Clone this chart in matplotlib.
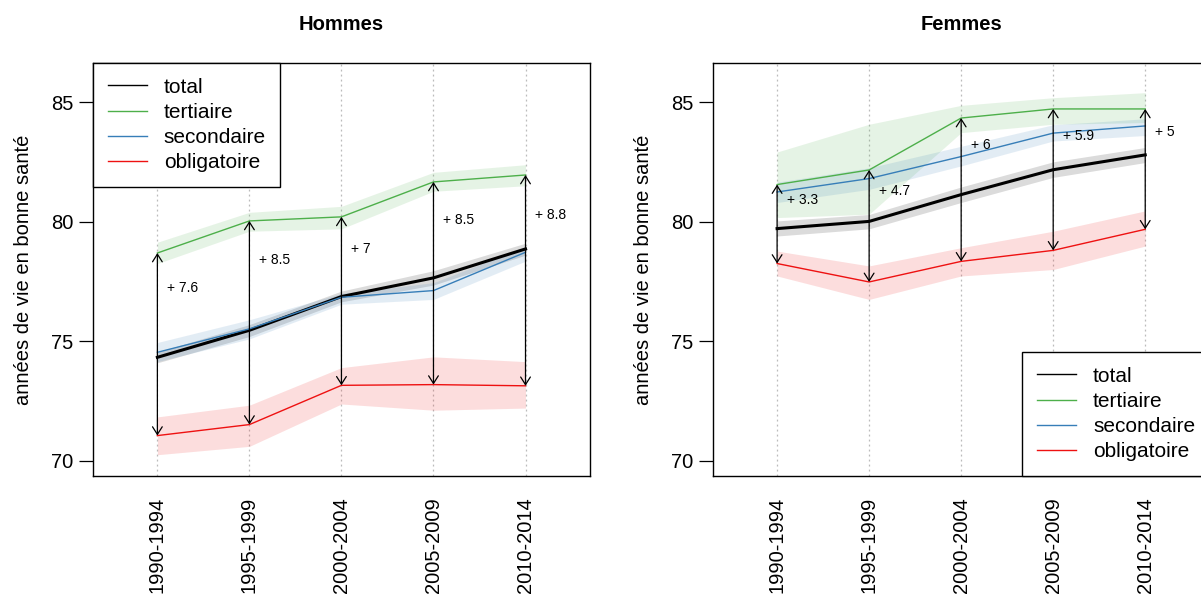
import matplotlib
matplotlib.use("Agg")
import matplotlib.pyplot as plt
from matplotlib.patches import FancyArrowPatch
import numpy as np

plt.rcParams['font.family'] = ['Liberation Sans', 'DejaVu Sans']

periods = ["1990-1994", "1995-1999", "2000-2004", "2005-2009", "2010-2014"]
series_names = ["total", "tertiaire", "secondaire", "obligatoire"]

# Hommes
h_total = [74.33, 75.46, 76.87, 77.65, 78.86]
h_total_lo = [74.10, 75.20, 76.65, 77.35, 78.60]
h_total_hi = [74.55, 75.70, 77.10, 77.95, 79.10]
h_tert = [78.69, 80.03, 80.20, 81.66, 81.95]
h_tert_lo = [78.25, 79.60, 79.70, 81.27, 81.50]
h_tert_hi = [79.14, 80.39, 80.64, 82.06, 82.38]
h_sec = [74.54, 75.52, 76.84, 77.12, 78.72]
h_sec_lo = [74.15, 75.10, 76.55, 76.75, 78.35]
h_sec_hi = [74.95, 75.90, 77.00, 77.45, 78.95]
h_obl = [71.06, 71.52, 73.16, 73.19, 73.14]
h_obl_lo = [70.26, 70.61, 72.38, 72.12, 72.21]
h_obl_hi = [71.84, 72.33, 73.90, 74.35, 74.15]

# Femmes
f_total = [79.71, 80.01, 81.13, 82.17, 82.79]
f_total_lo = [79.40, 79.70, 80.80, 81.85, 82.47]
f_total_hi = [80.03, 80.30, 81.45, 82.50, 83.10]
f_tert = [81.55, 82.16, 84.33, 84.71, 84.71]
f_tert_lo = [80.17, 80.31, 83.72, 84.07, 84.14]
f_tert_hi = [82.91, 84.07, 84.86, 85.18, 85.39]
f_sec = [81.24, 81.80, 82.72, 83.70, 84.00]
f_sec_lo = [80.80, 81.35, 82.33, 83.37, 83.60]
f_sec_hi = [81.65, 82.25, 83.15, 84.05, 84.30]
f_obl = [78.25, 77.48, 78.34, 78.80, 79.68]
f_obl_lo = [77.73, 76.75, 77.73, 78.00, 78.98]
f_obl_hi = [78.77, 78.15, 78.91, 79.60, 80.45]

colors = ["black", "#4DAF4A", "#377EB8", "#EE1111"]
widths = [2.2, 1.0, 1.0, 1.0]
FS = 14.5


def panel(ax, title, vals, los, his, legend_loc, legend_anchor):
    x = np.arange(1, len(periods) + 1)
    for xi in x:
        ax.axvline(xi, color="#BBBBBB", linestyle=(0, (1.5, 2.5)), lw=0.9, zorder=0)
    for lo, hi, c in zip(los, his, colors):
        ax.fill_between(x, lo, hi, color=c, alpha=0.14, lw=0, zorder=1)
    handles = []
    for v, c, w, name in zip(vals, colors, widths, series_names):
        ax.plot(x, v, color=c, lw=w, zorder=3)
        handles.append(plt.Line2D([], [], color=c, lw=1.0, label=name))
    tert, obl = vals[1], vals[3]
    for xi, t, o in zip(x, tert, obl):
        arr = FancyArrowPatch((xi, o), (xi, t), arrowstyle="<->,head_length=0.55,head_width=0.35",
                              mutation_scale=10, lw=0.9, color="black", shrinkA=0, shrinkB=0, zorder=4)
        ax.add_patch(arr)
        d = round(t - o, 1)
        ax.annotate(f"+ {d:g}", xy=(xi, o + 0.81 * (t - o)), xytext=(7, 0),
                    textcoords="offset points", ha="left", va="center", fontsize=10)
    ax.set_xlim(0.3, 5.7)
    ax.set_ylim(69.37, 86.63)
    ax.set_xticks(x)
    ax.set_xticklabels(periods, rotation=90, fontsize=FS)
    ax.tick_params(axis="x", length=0, pad=15)
    ax.set_yticks([70, 75, 80, 85])
    ax.tick_params(axis="y", length=10, width=0.9, pad=4, labelsize=FS)
    for s in ax.spines.values():
        s.set_linewidth(1.0)
    ax.set_ylabel("années de vie en bonne santé", fontsize=FS)
    ax.yaxis.set_label_coords(-0.12, 0.5)
    ax.set_title(title, fontsize=FS, fontweight="bold", pad=24)
    ax.legend(handles=handles, loc=legend_loc, bbox_to_anchor=legend_anchor,
              fontsize=15, frameon=True, fancybox=False, edgecolor="black",
              framealpha=1, borderaxespad=0, handlelength=1.9, handletextpad=0.8,
              labelspacing=0.3, borderpad=0.7)


fig = plt.figure(figsize=(12.01, 5.96), dpi=100)
ax1 = fig.add_axes([0.0774, 0.2013, 0.4138, 0.693])
ax2 = fig.add_axes([0.5934, 0.2013, 0.4138, 0.693])

panel(ax1, "Hommes", [h_total, h_tert, h_sec, h_obl],
      [h_total_lo, h_tert_lo, h_sec_lo, h_obl_lo],
      [h_total_hi, h_tert_hi, h_sec_hi, h_obl_hi], "upper left", (0, 1))
panel(ax2, "Femmes", [f_total, f_tert, f_sec, f_obl],
      [f_total_lo, f_tert_lo, f_sec_lo, f_obl_lo],
      [f_total_hi, f_tert_hi, f_sec_hi, f_obl_hi], "lower right", (1, 0))

fig.savefig("out.png", dpi=100)
